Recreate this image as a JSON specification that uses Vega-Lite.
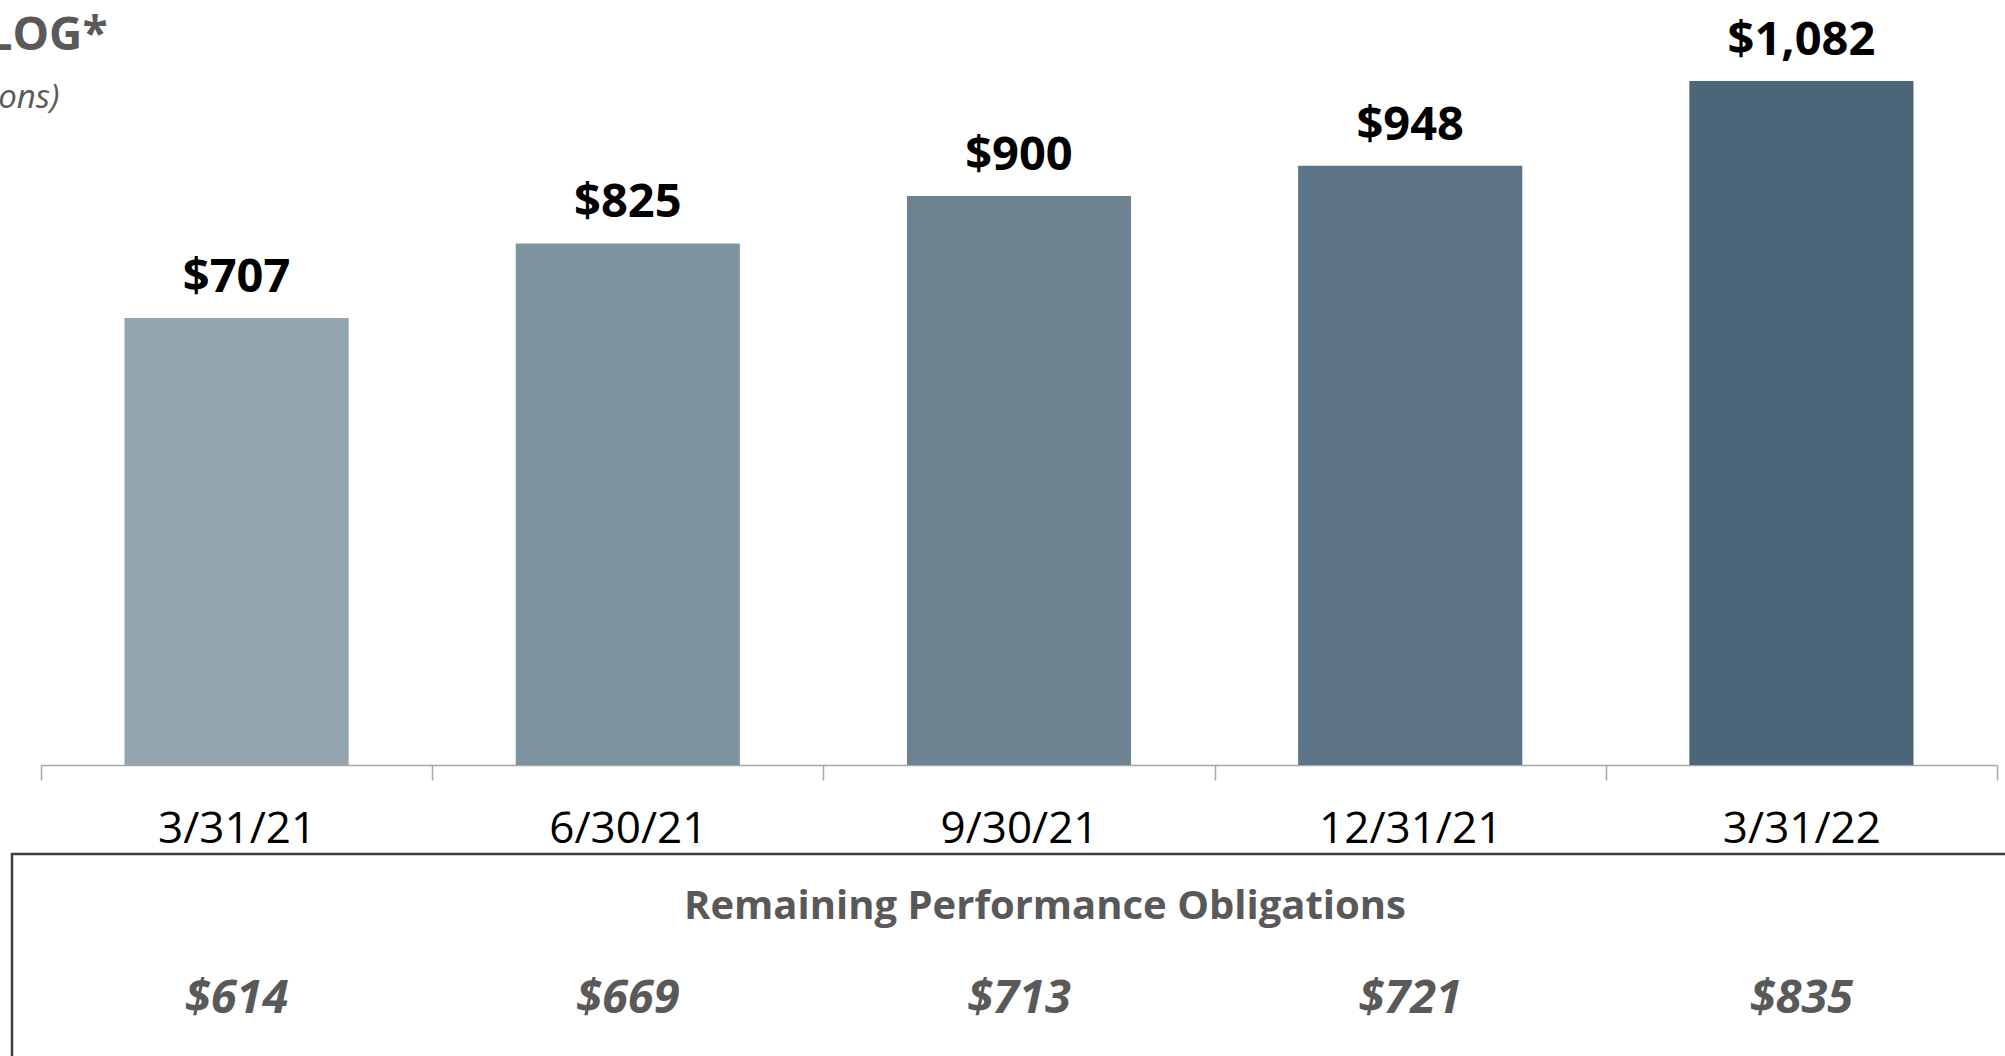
{
  "$schema": "https://vega.github.io/schema/vega-lite/v6.json",
  "padding": {"left": -136, "top": 0, "right": 0, "bottom": 0},
  "bounds": "flush",
  "spacing": 89,
  "config": {"view": {"stroke": null}, "font": "Open Sans"},
  "title": {
    "text": "BACKLOG*",
    "subtitle": "($ in millions)",
    "anchor": "start",
    "frame": "group",
    "dx": -148,
    "offset": -116,
    "fontSize": 46,
    "fontWeight": "bold",
    "color": "#595959",
    "subtitleFontSize": 33,
    "subtitleFontStyle": "italic",
    "subtitleColor": "#595959",
    "subtitlePadding": 22
  },
  "datasets": {
    "d": [
      {"date": "3/31/21", "backlog": 707, "rpo": 614},
      {"date": "6/30/21", "backlog": 825, "rpo": 669},
      {"date": "9/30/21", "backlog": 900, "rpo": 713},
      {"date": "12/31/21", "backlog": 948, "rpo": 721},
      {"date": "3/31/22", "backlog": 1082, "rpo": 835}
    ]
  },
  "vconcat": [
    {
      "width": 1985,
      "height": 765,
      "data": {"name": "d"},
      "encoding": {
        "x": {
          "field": "date",
          "type": "ordinal",
          "sort": null,
          "scale": {"range": [29, 1985], "paddingInner": 0, "paddingOuter": 0},
          "axis": {
            "title": null,
            "labelAngle": 0,
            "labelFontSize": 44,
            "labelLimit": 1000,
            "labelColor": "#000000",
            "labelFont": "Open Sans",
            "labelPadding": 27,
            "tickBand": "extent",
            "tickSize": 15,
            "tickColor": "#A6A6A6",
            "tickWidth": 1.5,
            "domainColor": "#A6A6A6",
            "domainWidth": 1.5,
            "grid": false
          }
        },
        "y": {
          "field": "backlog",
          "type": "quantitative",
          "scale": {"domain": [0, 1210]},
          "axis": null
        }
      },
      "layer": [
        {
          "mark": {"type": "bar", "width": {"band": 0.573}},
          "encoding": {
            "color": {
              "field": "date",
              "type": "ordinal",
              "sort": null,
              "scale": {"range": ["#94A4AE", "#7F94A1", "#6D8391", "#5D7386", "#4B6679"]},
              "legend": null
            }
          }
        },
        {
          "mark": {"type": "text", "baseline": "alphabetic", "dy": -26, "fontSize": 47, "fontWeight": "bold", "color": "#000000"},
          "encoding": {
            "text": {"field": "backlog", "type": "quantitative", "format": "$,.0f"}
          }
        }
      ]
    },
    {
      "width": 2066,
      "height": 286,
      "view": {"stroke": "#404040", "strokeWidth": 2.5},
      "data": {"name": "d"},
      "title": {
        "text": "Remaining Performance Obligations",
        "anchor": "middle",
        "frame": "group",
        "baseline": "alphabetic",
        "offset": -105,
        "fontSize": 40,
        "fontWeight": "bold",
        "color": "#595959"
      },
      "mark": {"type": "text", "baseline": "alphabetic", "dy": 16, "fontSize": 47, "fontWeight": "bold", "fontStyle": "italic", "color": "#595959"},
      "encoding": {
        "x": {
          "field": "date",
          "type": "ordinal",
          "sort": null,
          "scale": {"range": [29, 1985], "paddingInner": 0, "paddingOuter": 0},
          "axis": null
        },
        "text": {"field": "rpo", "type": "quantitative", "format": "$,.0f"}
      }
    }
  ]
}
